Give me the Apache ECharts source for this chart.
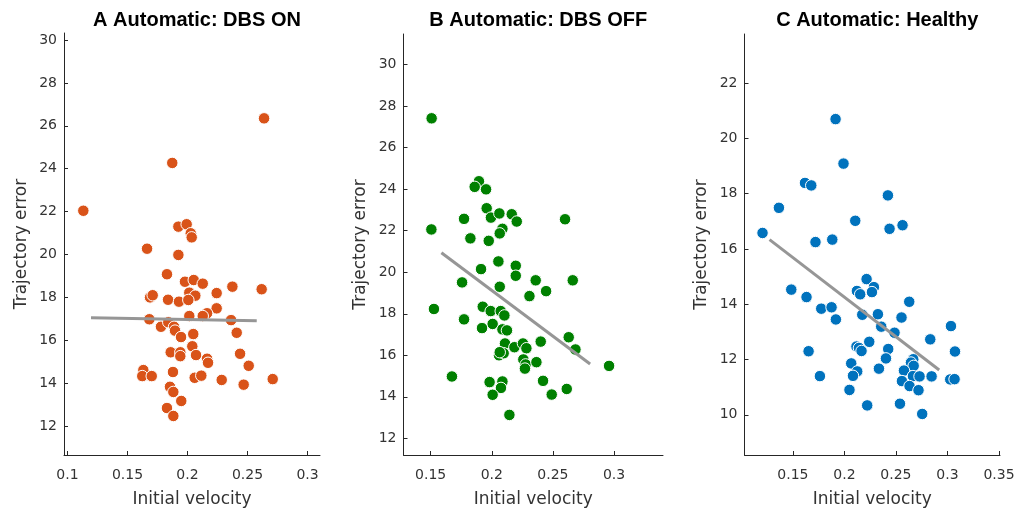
<!DOCTYPE html>
<html><head><meta charset="utf-8">
<script src="https://cdn.jsdelivr.net/npm/echarts@6/dist/echarts.min.js"></script>
<style>html,body{margin:0;padding:0;background:#fff}#c{width:1016px;height:511px}</style>
</head><body><div id="c"></div>
<script>
// ---- data ----
const titles = ['A Automatic: DBS ON', 'B Automatic: DBS OFF', 'C Automatic: Healthy'];
const xName = 'Initial velocity';
const yName = 'Trajectory error';

const onX = [0.2638,0.1873,0.1132,0.1924,0.1993,0.2027,0.2035,0.1663,0.1924,0.1829,0.1979,0.2052,0.2127,0.2374,0.2618,0.2243,0.2015,0.2065,0.1688,0.171,0.1838,0.1929,0.2007,0.2243,0.2163,0.2127,0.2015,0.1682,0.2363,0.1779,0.184,0.1888,0.1896,0.1946,0.2048,0.241,0.204,0.186,0.194,0.194,0.2071,0.2163,0.2171,0.2438,0.251,0.1632,0.1623,0.1702,0.1879,0.206,0.2115,0.2285,0.2468,0.271,0.1854,0.1882,0.1948,0.1829,0.1882];
const onY = [26.35,24.27,22.04,21.30,21.41,20.99,20.80,20.27,19.98,19.08,18.73,18.81,18.64,18.50,18.38,18.20,18.22,18.08,18.00,18.10,17.89,17.80,17.88,17.49,17.26,17.13,17.13,16.98,16.94,16.63,16.84,16.63,16.45,16.15,16.29,16.35,15.72,15.44,15.44,15.26,15.31,15.14,14.95,15.37,14.81,14.61,14.33,14.33,14.52,14.25,14.35,14.15,13.93,14.19,13.83,13.59,13.17,12.84,12.47];

const offX = [0.1508,0.1895,0.186,0.1953,0.1958,0.1773,0.1993,0.2062,0.2163,0.2204,0.2599,0.1506,0.2087,0.2065,0.1825,0.1975,0.2054,0.2196,0.1912,0.2196,0.2359,0.2662,0.1757,0.2065,0.2444,0.2308,0.1527,0.1926,0.1991,0.2073,0.2103,0.1773,0.2007,0.192,0.2087,0.2124,0.2629,0.24,0.2108,0.2185,0.2255,0.2283,0.2684,0.2059,0.2097,0.2065,0.2258,0.2277,0.2271,0.2365,0.2959,0.1674,0.1982,0.2087,0.2075,0.2419,0.2613,0.2007,0.249,0.2144];
const offY = [27.41,24.38,24.11,23.99,23.08,22.57,22.63,22.83,22.79,22.44,22.55,22.06,22.09,21.87,21.63,21.51,20.52,20.31,20.15,19.83,19.61,19.61,19.51,19.30,19.09,18.85,18.23,18.34,18.13,18.13,17.92,17.73,17.51,17.31,17.25,17.20,16.87,16.66,16.57,16.39,16.57,16.34,16.28,16.0,16.10,16.15,15.80,15.56,15.36,15.67,15.49,14.98,14.71,14.74,14.43,14.77,14.38,14.10,14.11,13.13];

const hX = [0.1914,0.1991,0.1617,0.1678,0.2422,0.1364,0.2105,0.2564,0.2438,0.1205,0.1719,0.1882,0.2215,0.2286,0.2121,0.2153,0.2267,0.1484,0.1632,0.2629,0.1775,0.1875,0.1917,0.2173,0.2325,0.2554,0.2357,0.2486,0.3034,0.2833,0.1652,0.2117,0.2141,0.2166,0.2241,0.2425,0.2403,0.3073,0.2668,0.2646,0.2672,0.2066,0.2335,0.2578,0.2124,0.2083,0.1762,0.2558,0.2665,0.2729,0.2846,0.3027,0.3069,0.2632,0.2719,0.2049,0.2221,0.2539,0.2755];
const hY = [20.70,19.09,18.39,18.30,17.94,17.49,17.02,16.86,16.73,16.58,16.25,16.34,14.91,14.62,14.48,14.36,14.44,14.53,14.26,14.09,13.84,13.89,13.45,13.62,13.64,13.52,13.19,12.97,13.21,12.73,12.30,12.47,12.42,12.31,12.64,12.38,12.04,12.29,12.01,11.89,11.77,11.86,11.67,11.60,11.57,11.41,11.40,11.22,11.40,11.39,11.39,11.28,11.29,11.04,10.89,10.90,10.34,10.40,10.03];

// regression line end points [x, y]
const fitOn  = [[0.1196, 17.05], [0.2577, 16.91]];
const fitOff = [[0.1588, 20.94], [0.2804, 15.58]];
const fitH   = [[0.1273, 16.34], [0.2920, 11.62]];

// axis ranges and tick labels
const xRanges = [[0.0971, 0.3104], [0.1278, 0.3400], [0.1030, 0.3510]];
const yRanges = [[10.65, 30.33], [11.20, 31.47], [8.545, 23.78]];
const xTicks = [[0.1,0.15,0.2,0.25,0.3],[0.15,0.2,0.25,0.3],[0.15,0.2,0.25,0.3,0.35]];
const yTicks = [[12,14,16,18,20,22,24,26,28,30],[12,14,16,18,20,22,24,26,28,30],[10,12,14,16,18,20,22]];

const colors = ['#D95319', '#008000', '#0072BD'];
const xs = [onX, offX, hX], ys = [onY, offY, hY], fits = [fitOn, fitOff, fitH];

// ---- layout ----
const grids = [
  {left: 64, top: 33, width: 256, height: 422},
  {left: 403.5, top: 34, width: 259.5, height: 421},
  {left: 744.5, top: 34, width: 255.5, height: 421}
];
const TFONT = 'Liberation Sans, Arial, sans-serif';
const FONT = 'DejaVu Sans, sans-serif';
const axisColor = '#262626';
const fmt = v => String(+(+v).toFixed(2));

const option = {
  animation: false,
  backgroundColor: '#fff',
  title: titles.map((t, i) => ({
    text: t,
    left: grids[i].left + grids[i].width / 2,
    top: 5,
    textAlign: 'center',
    textStyle: {fontFamily: TFONT, fontSize: 20, fontWeight: 'bold', color: '#000'}
  })),
  grid: grids.map(g => Object.assign({containLabel: false, outerBoundsMode: 'none'}, g)),
  xAxis: xRanges.map((r, i) => ({
    type: 'value', gridIndex: i, min: r[0], max: r[1],
    name: xName, nameLocation: 'middle', nameGap: 36,
    nameTextStyle: {fontFamily: FONT, fontSize: 17, color: '#333'},
    axisLine: {show: true, onZero: false, lineStyle: {color: axisColor, width: 1}},
    axisTick: {show: true, inside: true, length: 4, customValues: xTicks[i], lineStyle: {color: axisColor, width: 1}},
    axisLabel: {customValues: xTicks[i], formatter: fmt, fontFamily: FONT, fontSize: 14, color: '#333', margin: 13},
    splitLine: {show: false}
  })),
  yAxis: yRanges.map((r, i) => ({
    type: 'value', gridIndex: i, min: r[0], max: r[1],
    name: yName, nameLocation: 'middle', nameGap: 34,
    nameTextStyle: {fontFamily: FONT, fontSize: 17, color: '#333'},
    axisLine: {show: true, onZero: false, lineStyle: {color: axisColor, width: 1}},
    axisTick: {show: true, inside: true, length: 4, customValues: yTicks[i], lineStyle: {color: axisColor, width: 1}},
    axisLabel: {customValues: yTicks[i], formatter: fmt, fontFamily: FONT, fontSize: 14, color: '#333', margin: 7},
    splitLine: {show: false}
  })),
  series: []
};

for (let i = 0; i < 3; i++) {
  option.series.push({
    type: 'scatter', xAxisIndex: i, yAxisIndex: i,
    data: xs[i].map((x, k) => [x, ys[i][k]]),
    symbol: 'circle', symbolSize: 11.5,
    itemStyle: {color: colors[i], borderColor: '#fff', borderWidth: 1, opacity: 1},
    z: 2
  });
  option.series.push({
    type: 'line', xAxisIndex: i, yAxisIndex: i,
    data: fits[i], showSymbol: false, symbol: 'none',
    lineStyle: {color: '#969696', width: 3},
    z: 3
  });
}

const chart = echarts.init(document.getElementById('c'), null, {renderer: 'canvas'});
chart.setOption(option);
</script>
</body></html>
